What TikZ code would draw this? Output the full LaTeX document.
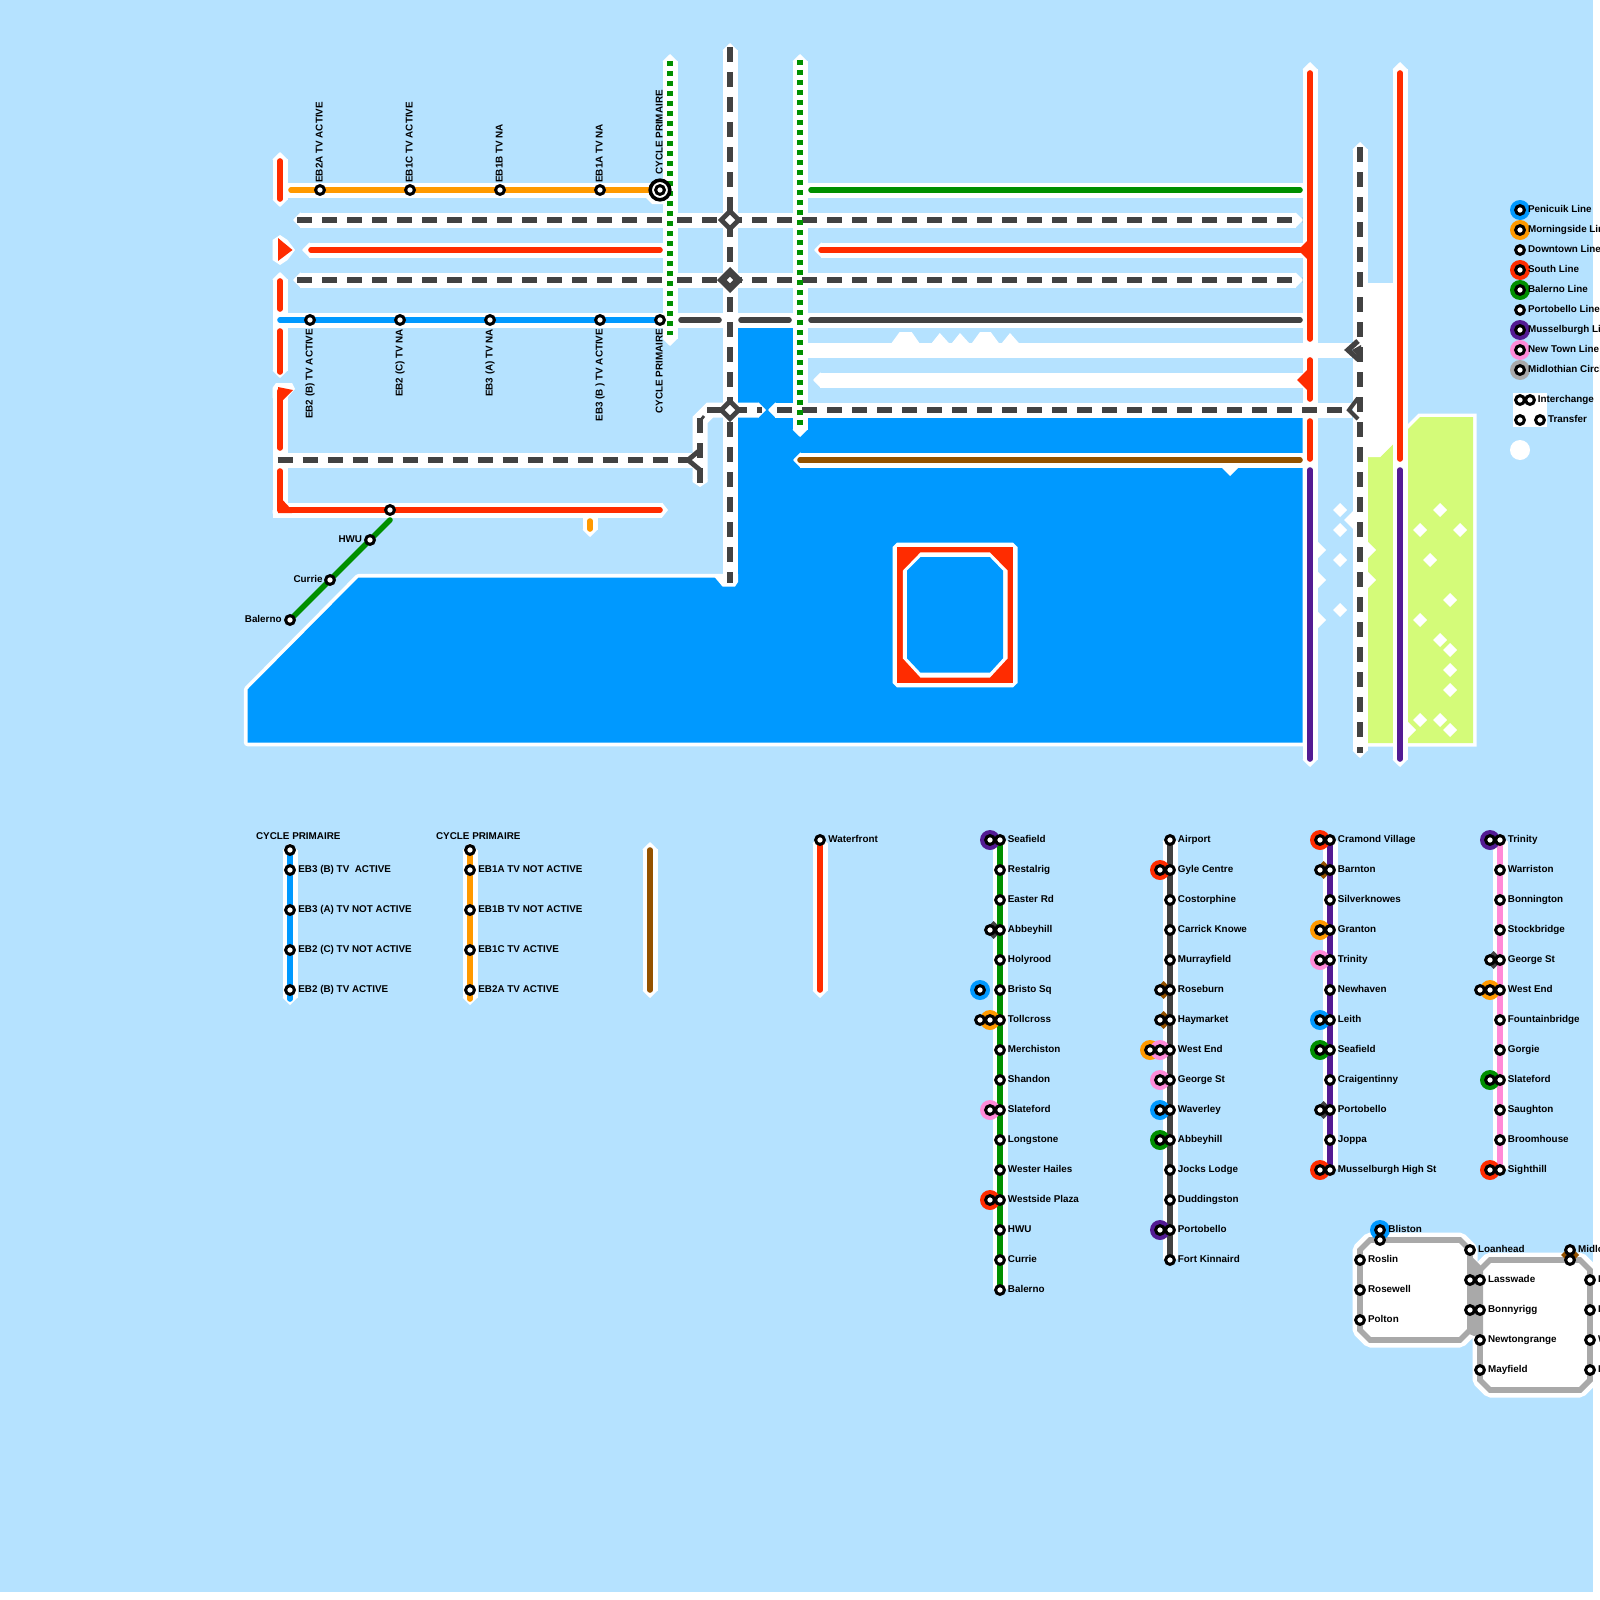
\documentclass[tikz,border=0pt]{standalone}
\usepackage{fontspec}
\setmainfont{Liberation Sans}
\usetikzlibrary{arrows.meta,shapes.geometric}
\definecolor{bgc}{HTML}{B5E2FF}
\definecolor{wat}{HTML}{0099FF}
\definecolor{lnd}{HTML}{D4FB79}
\definecolor{redl}{HTML}{FF2C00}
\definecolor{orgl}{HTML}{FF9900}
\definecolor{grnl}{HTML}{008F00}
\definecolor{purl}{HTML}{531B93}
\definecolor{pnkl}{HTML}{FF8AD8}
\definecolor{gryl}{HTML}{A9A9A9}
\definecolor{dkl}{HTML}{424242}
\definecolor{brnl}{HTML}{945200}
\tikzset{
 casline/.style={draw=white,line width=7.5pt,line cap=butt,line join=miter},
 casb/.style={casline,{Triangle[length=3.75pt,width=7.5pt]}-{Triangle[length=3.75pt,width=7.5pt]}},
 cass/.style={casline,{Triangle[length=3.75pt,width=7.5pt]}-},
 case/.style={casline,-{Triangle[length=3.75pt,width=7.5pt]}},
 solidl/.style={draw=#1,line width=2.8pt,line cap=round,line join=round},
 dashl/.style={draw=dkl,line width=2.8pt,line cap=butt,dash pattern=on 7.5pt off 5pt},
 dotl/.style={draw=grnl,line width=2.8pt,line cap=butt,dash pattern=on 2.5pt off 2.5pt},
 stn/.style={circle,draw=black,fill=white,line width=1.5pt,inner sep=0pt,minimum size=4.4pt,outer sep=0pt},
 halo/.style={circle,fill=#1,inner sep=0pt,minimum size=10pt,outer sep=0pt},
 dia/.style={diamond,fill=#1,inner sep=0pt,minimum width=9pt,minimum height=9pt,outer sep=0pt},
 lbl/.style={anchor=base west,inner sep=0pt,text=black,font=\fontsize{4.93}{6}\selectfont\bfseries},
 lble/.style={lbl,anchor=base east},
 vlbl/.style={lbl,rotate=90},
 vlble/.style={lble,rotate=90},
 wdia/.style={diamond,fill=white,inner sep=0pt,minimum width=7pt,minimum height=7pt,outer sep=0pt},
 chev/.style={draw=dkl,line width=#1,line cap=butt,line join=miter},
 box/.style n args={2}{draw=dkl,line width=#1,fill=white,diamond,inner sep=0pt,minimum width=#2,minimum height=#2,outer sep=0pt},
}
\newcommand\rail[6]{\coordinate (#2a) at (#3,#4);\coordinate (#2b) at (#5,#6);\draw[#1] (#2a) -- (#2b);}
\newcommand\hl[3]{\node[halo=#1] (h#2x#3) at (#2,#3) {};}
\newcommand\dm[3]{\node[dia=#1] (d#2x#3) at (#2,#3) {};}
\newcommand\st[2]{\node[stn] (s#1x#2) at (#1,#2) {};}
\begin{document}
\begin{tikzpicture}[x=0.5pt,y=-0.5pt]
\useasboundingbox (0,0) rectangle (1600,1600);
\clip (0,0) rectangle (1600,1600);
\fill[white] (0,0) rectangle (1600,1600);
\fill[bgc] (0,0) rectangle (1592.5,1592);
% land and water
\draw[white,line width=3.5pt,line join=miter] (1367,457) -- (1380,457) -- (1420,417) -- (1473,417) -- (1473,743) -- (1367,743) -- cycle;
\fill[lnd] (1367,457) -- (1380,457) -- (1420,417) -- (1473,417) -- (1473,743) -- (1367,743) -- cycle;
\draw[white,line width=3.6pt,line join=round] (247.5,689.5) -- (358.5,577.5) -- (738,577.5) -- (738,327.5) -- (793,327.5) -- (793,417) -- (1302.7,417) -- (1302.7,742.7) -- (247.5,742.7) -- cycle;
\fill[wat] (247.5,689.5) -- (358.5,577.5) -- (738,577.5) -- (738,327.5) -- (793,327.5) -- (793,417) -- (1302.7,417) -- (1302.7,742.7) -- (247.5,742.7) -- cycle;
% white blocks and casings
\fill[white] (1367,283) -- (1393,283) -- (1393,444) -- (1380,457) -- (1367,457) -- cycle;
\rail{casb}{ca1}{280}{152}{280}{207}
\rail{casb}{ca2}{280}{272}{280}{378}
\draw[white,line width=7.5pt,line join=miter] (280,390) -- (280,510) -- (662,510);
\fill[white] (272.5,240) -- (280,235) -- (287.5,240) -- (295,250) -- (287.5,260) -- (280,265) -- (272.5,260) -- cycle;
\fill[white] (272.5,388) -- (276,383) -- (292,383) -- (295,389) -- (287,398) -- (272.5,398) -- cycle;
\fill[white] (272.5,510) -- (287.5,510) -- (287.5,517.5) -- (277,517.5) -- (272.5,513) -- cycle;
\fill[white] (662,502.5) -- (668,510) -- (662,517.5) -- cycle;
\rail{case}{cb1}{286}{190}{664}{190}
\fill[white] (645,197) -- (652,204) -- (664,204) -- (664,190) -- (645,190) -- cycle;
\rail{casb}{cb2}{293}{220}{1303}{220}
\rail{cass}{cb3}{302}{250}{668}{250}
\rail{cass}{cb4}{814}{250}{1303}{250}
\rail{casb}{cb5}{293}{280}{1303}{280}
\rail{casline}{cb6}{273}{320}{1303}{320}
\rail{casline}{cb7}{800}{190}{1303}{190}
\rail{casline}{cb8}{800}{350}{1352}{350}
\rail{cass}{cb9}{813}{380}{1303}{380}
\rail{cass}{cb10}{768}{410}{1352}{410}
\rail{casline}{cb11}{273}{460}{693}{460}
\rail{cass}{cb12}{793}{460}{1303}{460}
\draw[cass] (766,410) -- (710,410) -- (700,420) -- (700,480);
\fill[white] (692.5,479) -- (707.5,479) -- (707.5,482) -- (700,487) -- (692.5,482) -- cycle;
\rail{casb}{cv1}{670}{54}{670}{346}
\rail{cass}{cv2}{730}{43}{730}{578}
\fill[white] (712,574) -- (722.5,586.5) -- (735,586.5) -- (738,582) -- (738,574) -- cycle;
\rail{casb}{cv3}{800}{54}{800}{437}
\rail{casb}{cv4}{1310}{62}{1310}{767}
\rail{casb}{cv5}{1360}{142}{1360}{758}
\rail{casb}{cv6}{1400}{62}{1400}{767}
\rail{casb}{cv7}{590}{510}{590}{537}
% bumps and marks
\fill[white] (891.6,343) -- (899.6,332) -- (911.7,332) -- (919.3,343) -- cycle;
\fill[white] (931.8,343) -- (939.8,333) -- (948.8,343) -- cycle;
\fill[white] (952,343) -- (960,333) -- (969,343) -- cycle;
\fill[white] (972,343) -- (980,332) -- (990.7,332) -- (998.8,343) -- cycle;
\fill[white] (1001.9,343) -- (1010,333) -- (1018.8,343) -- cycle;
\fill[white] (1221,467) -- (1239,467) -- (1230,476) -- cycle;
\foreach \py in {550,580,620} \fill[white] (1317,\py-9) -- (1326,\py) -- (1317,\py+9) -- cycle;
\fill[white] (1353,511) -- (1344,520) -- (1353,529) -- cycle;
\foreach \py in {550,580} \fill[white] (1367,\py-9) -- (1376,\py) -- (1367,\py+9) -- cycle;
\fill[white] (1407,721) -- (1416,730) -- (1407,739) -- cycle;
\foreach \dx/\dy in {1340/510,1340/530,1340/560,1340/610,1440/510,1420/530,1460/530,1430/560,1450/600,1420/620,1440/640,1450/650,1450/670,1450/690,1420/720,1440/720,1450/730}
  \node[wdia] (w\dx x\dy) at (\dx,\dy) {};
% red ring
\fill[white] (897,542.7) -- (1013,542.7) -- (1017.5,547) -- (1017.5,683) -- (1013,687.3) -- (897,687.3) -- (892.5,683) -- (892.5,547) -- cycle;
\fill[redl] (897,547.3) rectangle (1013,682.7);
\fill[white] (920.6,552.3) -- (989.8,552.3) -- (1007.7,570.7) -- (1007.7,658.3) -- (989.8,677.7) -- (920.6,677.7) -- (902.8,658.3) -- (902.8,570.7) -- cycle;
\fill[wat] (920.6,557) -- (989.8,557) -- (1003,570.7) -- (1003,658.3) -- (989.8,672.7) -- (920.6,672.7) -- (907,658.3) -- (907,570.7) -- cycle;
% lines
\rail{solidl=redl}{la1}{280}{161}{280}{199}
\fill[redl] (278,238) -- (292.5,250) -- (278,261) -- cycle;
\rail{solidl=redl}{la2}{280}{281}{280}{309}
\rail{solidl=redl}{la3}{280}{331}{280}{372}
\rail{solidl=redl}{la4}{280}{391}{280}{448}
\fill[redl] (278,387) -- (293,390) -- (282,401) -- (278,401) -- cycle;
\rail{solidl=redl}{la5}{280}{471}{280}{510}
\fill[redl] (278,495) -- (292,510) -- (292,513) -- (278,513) -- cycle;
\rail{solidl=redl}{la6}{280}{510}{660}{510}
\rail{solidl=redl}{la7}{311}{250}{660}{250}
\rail{solidl=redl}{la8}{821}{250}{1300}{250}
\rail{solidl=orgl}{lb1}{291}{190}{660}{190}
\rail{solidl=wat}{lb2}{280}{320}{660}{320}
\rail{solidl=dkl}{lb3}{681}{320}{719}{320}
\rail{solidl=dkl}{lb4}{741}{320}{789}{320}
\rail{solidl=dkl}{lb5}{811}{320}{1300}{320}
\rail{solidl=grnl}{lb6}{811}{190}{1300}{190}
\rail{solidl=brnl}{lb7}{800}{460}{1300}{460}
\rail{solidl=orgl}{lb8}{590}{521}{590}{529}
\rail{solidl=grnl}{lb9}{290}{620}{390}{520}
\rail{dashl}{lc1}{297}{220}{662}{220}
\rail{dashl}{lc2}{677}{220}{1302}{220}
\rail{dashl}{lc3}{297}{280}{662}{280}
\rail{dashl}{lc4}{677}{280}{1302}{280}
\rail{dashl}{lc5}{707}{410}{762}{410}
\rail{dashl}{lc6}{777}{410}{1348}{410}
\rail{dashl}{lc7}{277.5}{460}{690}{460}
\rail{dashl}{lc8}{700}{418}{700}{483}
\rail{chev=1.4pt}{lc9}{700}{421}{704}{416}
\draw[chev=2.4pt] (700,450) -- (688,460) -- (700,470);
\rail{dashl}{ld1}{730}{47}{730}{583}
\rail{dotl}{ld2}{670}{61}{670}{335}
\rail{dotl}{ld3}{800}{60}{800}{426}
\rail{dashl}{ld4}{1360}{147}{1360}{753}
\rail{solidl=redl}{le1}{1310}{73}{1310}{339}
\rail{solidl=redl}{le2}{1310}{360}{1310}{399}
\rail{solidl=redl}{le3}{1310}{421}{1310}{459}
\rail{solidl=purl}{le4}{1310}{470}{1310}{759}
\rail{solidl=redl}{le5}{1400}{73}{1400}{459}
\rail{solidl=purl}{le6}{1400}{470}{1400}{759}
\fill[redl] (1298,250) -- (1311,237) -- (1311,263) -- cycle;
\fill[redl] (1297,380) -- (1311,366) -- (1311,394) -- cycle;
\draw[chev=2.6pt] (1358,341) -- (1348,350) -- (1359,360);
\fill[dkl] (1352,350) -- (1361,345) -- (1361,359) -- cycle;
\draw[chev=2pt] (1358,398) -- (1349,410) -- (1358,419);
\node[box={2.4pt}{8.8pt}] (x1) at (730,220) {};
\node[box={3.4pt}{8.2pt}] (x2) at (730,280) {};
\node[box={2.4pt}{8.8pt}] (x3) at (730,410) {};
\node[stn,minimum size=9.8pt,line width=1.8pt] (cycle) at (660,190) {};
% top stations
\foreach \px in {320,410,500,600,660}{
  \node[stn] (t\px) at (\px,190) {};
}
\foreach \px/\t in {320/EB2A TV ACTIVE,410/EB1C TV ACTIVE,500/EB1B TV NA,600/EB1A TV NA}{
  \node[vlbl] (tl\px) at (\px+2.7,183) {\t};
}
\node[vlbl] (tl660) at (662.7,175) {CYCLE PRIMAIRE};
\foreach \px/\t in {310/{EB2 (B) TV ACTIVE},400/{EB2 (C) TV NA},490/{EB3 (A) TV NA},600/{EB3 (B ) TV ACTIVE},660/{CYCLE PRIMAIRE}}{
  \node[stn] (b\px) at (\px,320) {};
  \node[vlble] (bl\px) at (\px+2.7,328.5) {\t};
}
\node[stn] (m0) at (390,510) {};
\node[stn] (m1) at (370,540) {};
\node[stn] (m2) at (330,580) {};
\node[stn] (m3) at (290,620) {};
\node[lble] (m1l) at (362.5,542) {HWU};
\node[lble] (m2l) at (323,582) {Currie};
\node[lble] (m3l) at (282,622) {Balerno};
% lower key lines
\rail{casb}{kc1}{290}{843}{290}{1005}
\rail{casb}{kc2}{470}{843}{470}{1005}
\rail{casb}{kc3}{650}{842}{650}{998}
\rail{casb}{kc4}{820}{836}{820}{998}
\rail{casb}{kc5}{1000}{834}{1000}{1296}
\rail{casb}{kc6}{1170}{834}{1170}{1266}
\rail{casb}{kc7}{1330}{834}{1330}{1176}
\rail{casb}{kc8}{1500}{834}{1500}{1176}
\rail{solidl=wat}{kl1}{290}{850}{290}{999}
\rail{solidl=orgl}{kl2}{470}{850}{470}{999}
\rail{solidl=brnl}{kl3}{650}{850}{650}{990}
\rail{solidl=redl}{kl4}{820}{840}{820}{990}
\rail{solidl=grnl}{kl5}{1000}{840}{1000}{1290}
\rail{solidl=dkl}{kl6}{1170}{840}{1170}{1260}
\rail{solidl=purl}{kl7}{1330}{840}{1330}{1170}
\rail{solidl=pnkl}{kl8}{1500}{840}{1500}{1170}
\node[lbl] (cp1) at (255.7,839.7) {CYCLE PRIMAIRE};
\node[lbl] (cp2) at (435.7,839.7) {CYCLE PRIMAIRE};
\st{290}{850}\st{470}{850}
\foreach \y/\t in {870/{EB3 (B) TV~ ACTIVE},910/{EB3 (A) TV NOT ACTIVE},950/{EB2 (C) TV NOT ACTIVE},990/{EB2 (B) TV ACTIVE}}{
  \node[stn] (k\y) at (290,\y) {}; \node[lbl] (kt\y) at (298,\y+2.5) {\t};}
\foreach \y/\t in {870/{EB1A TV NOT ACTIVE},910/{EB1B TV NOT ACTIVE},950/{EB1C TV ACTIVE},990/{EB2A TV ACTIVE}}{
  \node[stn] (q\y) at (470,\y) {}; \node[lbl] (qt\y) at (478,\y+2.5) {\t};}
\st{820}{840}
\node[lbl] (wf) at (828,842.7) {Waterfront};
% halos and diamonds
\hl{purl}{990}{840}\dm{dkl}{993.5}{930}\hl{wat}{980}{990}\hl{orgl}{990}{1020}\hl{pnkl}{990}{1110}\hl{redl}{990}{1200}
\hl{redl}{1160}{870}\dm{brnl}{1163.5}{990}\dm{brnl}{1163.5}{1020}\hl{orgl}{1150}{1050}\hl{pnkl}{1160}{1050}\hl{pnkl}{1160}{1080}\hl{wat}{1160}{1110}\hl{grnl}{1160}{1140}\hl{purl}{1160}{1230}
\hl{redl}{1320}{840}\dm{brnl}{1323.5}{870}\hl{orgl}{1320}{930}\hl{pnkl}{1320}{960}\hl{wat}{1320}{1020}\hl{grnl}{1320}{1050}\dm{dkl}{1323.5}{1110}\hl{redl}{1320}{1170}
\hl{purl}{1490}{840}\dm{dkl}{1493.5}{960}\hl{orgl}{1490}{990}\hl{grnl}{1490}{1080}\hl{redl}{1490}{1170}
\foreach \y/\t in {840/Seafield,870/Restalrig,900/Easter Rd,930/Abbeyhill,960/Holyrood,990/Bristo Sq,1020/Tollcross,1050/Merchiston,1080/Shandon,1110/Slateford,1140/Longstone,1170/Wester Hailes,1200/Westside Plaza,1230/HWU,1260/Currie,1290/Balerno}{
  \node[stn] (a\y) at (1000,\y) {}; \node[lbl] (al\y) at (1007.5,\y+2.7) {\t};}
\foreach \px/\y in {990/840,990/930,980/990,990/1020,980/1020,990/1110,990/1200}{\st{\px}{\y}}
\foreach \y/\t in {840/Airport,870/Gyle Centre,900/Costorphine,930/Carrick Knowe,960/Murrayfield,990/Roseburn,1020/Haymarket,1050/West End,1080/George St,1110/Waverley,1140/Abbeyhill,1170/Jocks Lodge,1200/Duddingston,1230/Portobello,1260/Fort Kinnaird}{
  \node[stn] (c\y) at (1170,\y) {}; \node[lbl] (cl\y) at (1177.5,\y+2.7) {\t};}
\foreach \px/\y in {1160/870,1160/990,1160/1020,1160/1050,1150/1050,1160/1080,1160/1110,1160/1140,1160/1230}{\st{\px}{\y}}
\foreach \y/\t in {840/Cramond Village,870/Barnton,900/Silverknowes,930/Granton,960/Trinity,990/Newhaven,1020/Leith,1050/Seafield,1080/Craigentinny,1110/Portobello,1140/Joppa,1170/Musselburgh High St}{
  \node[stn] (e\y) at (1330,\y) {}; \node[lbl] (el\y) at (1337.5,\y+2.7) {\t};}
\foreach \px/\y in {1320/840,1320/870,1320/930,1320/960,1320/1020,1320/1050,1320/1110,1320/1170}{\st{\px}{\y}}
\foreach \y/\t in {840/Trinity,870/Warriston,900/Bonnington,930/Stockbridge,960/George St,990/West End,1020/Fountainbridge,1050/Gorgie,1080/Slateford,1110/Saughton,1140/Broomhouse,1170/Sighthill}{
  \node[stn] (f\y) at (1500,\y) {}; \node[lbl] (fl\y) at (1507.5,\y+2.7) {\t};}
\foreach \px/\y in {1490/840,1490/960,1490/990,1480/990,1490/1080,1490/1170}{\st{\px}{\y}}
% Midlothian
\draw[white,fill=white,line width=7.5pt,line join=bevel] (1370,1240) -- (1460,1240) -- (1470,1250) -- (1470,1330) -- (1460,1340) -- (1370,1340) -- (1360,1330) -- (1360,1250) -- cycle;
\draw[white,fill=white,line width=7.5pt,line join=bevel] (1490,1260) -- (1580,1260) -- (1590,1270) -- (1590,1380) -- (1580,1390) -- (1490,1390) -- (1480,1380) -- (1480,1270) -- cycle;
\fill[gryl] (1467,1255) -- (1473,1258) -- (1483,1268) -- (1483,1334) -- (1474,1336) -- (1467,1333) -- cycle;
\draw[gryl,line width=2.8pt,line join=miter] (1370,1240) -- (1460,1240) -- (1470,1250) -- (1470,1330) -- (1460,1340) -- (1370,1340) -- (1360,1330) -- (1360,1250) -- cycle;
\draw[gryl,line width=2.8pt,line join=miter] (1490,1260) -- (1580,1260) -- (1590,1270) -- (1590,1380) -- (1580,1390) -- (1490,1390) -- (1480,1380) -- (1480,1270) -- cycle;
\hl{wat}{1380}{1230}
\dm{brnl}{1570}{1255}
\foreach \px/\y in {1380/1230,1380/1240,1570/1250,1570/1260,1470/1280,1470/1310,1480/1280,1480/1310}{\st{\px}{\y}}
\foreach \px/\y/\t in {1360/1260/Roslin,1360/1290/Rosewell,1360/1320/Polton,1470/1250/Loanhead,1480/1340/Newtongrange,1480/1370/Mayfield,1590/1280/B,1590/1310/D,1590/1340/W,1590/1370/E}{
  \node[stn] (g\px x\y) at (\px,\y) {}; \node[lbl] (gl\px x\y) at (\px+7.7,\y+2.7) {\t};}
\node[lbl] (bl) at (1388,1232.7) {Bliston};
\node[lbl] (ls) at (1487.7,1282.7) {Lasswade};
\node[lbl] (by) at (1487.7,1312.7) {Bonnyrigg};
\node[lbl] (mi) at (1577.7,1252.7) {Midlothian};
% legend
\hl{wat}{1520}{210}\hl{orgl}{1520}{230}\hl{redl}{1520}{270}\hl{grnl}{1520}{290}\hl{purl}{1520}{330}\hl{pnkl}{1520}{350}\hl{gryl}{1520}{370}
\foreach \y/\t in {210/Penicuik Line,230/Morningside Line,250/Downtown Line,270/South Line,290/Balerno Line,310/Portobello Line,330/Musselburgh Line,350/New Town Line,370/Midlothian Circle}{
  \node[stn] (z\y) at (1520,\y) {}; \node[lbl] (zl\y) at (1527.7,\y+2.7) {\t};}
\fill[white] (1513,393) rectangle (1547,427);
\st{1520}{400}\st{1530}{400}\st{1520}{420}\st{1540}{420}
\node[lbl] (il) at (1537.5,402.7) {Interchange};
\node[lbl] (tl) at (1547.7,422.7) {Transfer};
\node[halo=white] (wd) at (1520,450) {};
\end{tikzpicture}
\end{document}
